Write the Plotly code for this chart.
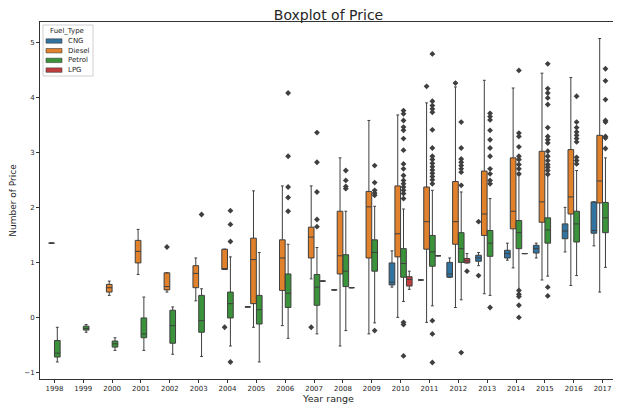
import plotly.graph_objects as go

years = list(range(1998, 2018))
fuel_types = ["CNG", "Diesel", "Petrol", "LPG"]
fuel_colors = {"CNG": "#3274a1", "Diesel": "#e1812c", "Petrol": "#3a923a", "LPG": "#c03d3e"}

# ---- CNG ----
cng_years = [2005, 2008, 2010, 2011, 2012, 2013, 2014, 2015, 2016, 2017]
cng_lower = [0.20, 0.51, 0.56, 0.69, 0.74, 0.95, 1.05, 1.09, 1.20, 1.31]
cng_q1 = [0.20, 0.51, 0.60, 0.69, 0.74, 1.03, 1.09, 1.18, 1.44, 1.54]
cng_med = [0.20, 0.51, 0.65, 0.69, 0.80, 1.09, 1.17, 1.26, 1.58, 1.59]
cng_q3 = [0.20, 0.51, 1.00, 0.69, 1.01, 1.14, 1.23, 1.32, 1.71, 2.11]
cng_upper = [0.20, 0.51, 1.22, 0.69, 1.09, 1.19, 1.36, 1.36, 2.01, 2.11]
cng_out_years = [2013, 2013]
cng_out_vals = [1.75, 0.77]

# ---- Diesel ----
diesel_years = [1998, 2000, 2001, 2002, 2003, 2004, 2005, 2006, 2007, 2008,
                2009, 2010, 2011, 2012, 2013, 2014, 2015, 2016, 2017]
diesel_lower = [1.36, 0.41, 0.79, 0.47, 0.31, 0.88, -0.17, -0.14, 0.71, -0.51,
                -0.29, 0.01, -0.08, 0.19, 0.44, 0.91, 0.69, 0.59, 0.47]
diesel_q1 = [1.36, 0.47, 1.00, 0.51, 0.55, 0.88, 0.26, 0.50, 1.09, 0.80,
             1.09, 1.11, 1.25, 1.34, 1.50, 1.62, 1.74, 1.89, 2.09]
diesel_med = [1.36, 0.55, 1.21, 0.57, 0.81, 0.88, 1.06, 1.09, 1.47, 1.13,
              2.02, 1.53, 1.75, 1.75, 1.89, 1.94, 2.11, 2.20, 2.49]
diesel_q3 = [1.36, 0.61, 1.41, 0.82, 0.95, 1.25, 1.45, 1.42, 1.65, 1.94,
             2.30, 2.40, 2.38, 2.48, 2.67, 2.91, 3.03, 3.06, 3.32]
diesel_upper = [1.36, 0.67, 1.61, 0.82, 1.09, 1.25, 2.31, 2.40, 2.40, 2.91,
                3.59, 3.69, 3.91, 4.20, 4.32, 4.18, 4.45, 4.37, 5.08]
diesel_out_years = [2002, 2004, 2007, 2011, 2012]
diesel_out_vals = [1.29, -0.17, -0.17, 4.21, 4.27]

# ---- Petrol ----
petrol_years = years
petrol_lower = [-0.80, -0.26, -0.59, -0.59, -0.66, -0.70, -0.51, -0.80, -0.37, -0.29,
                -0.23, -0.09, 0.30, 0.22, 0.33, 0.41, 0.51, 0.76, 0.77, 0.92]
petrol_q1 = [-0.71, -0.22, -0.53, -0.36, -0.46, -0.26, 0.00, -0.11, 0.19, 0.23,
             0.57, 0.85, 0.74, 0.94, 1.01, 1.12, 1.26, 1.36, 1.38, 1.55]
petrol_med = [-0.64, -0.19, -0.47, -0.29, -0.14, -0.05, 0.26, 0.15, 0.45, 0.56,
              0.85, 1.19, 0.99, 1.20, 1.26, 1.36, 1.55, 1.60, 1.71, 1.82]
petrol_q3 = [-0.41, -0.15, -0.42, 0.00, 0.14, 0.41, 0.47, 0.41, 0.80, 0.79,
             1.15, 1.42, 1.26, 1.50, 1.55, 1.59, 1.77, 1.82, 1.94, 2.10]
petrol_upper = [-0.17, -0.12, -0.36, 0.38, 0.20, 0.53, 1.11, 1.19, 1.34, 1.28,
                1.94, 2.03, 1.98, 2.32, 2.29, 2.17, 2.59, 2.59, 2.68, 2.91]
petrol_outliers = {
    2003: [1.88],
    2004: [1.95, 1.70, 1.39, -0.80],
    2006: [4.09, 2.94, 2.38, 2.19, 1.94],
    2007: [3.37, 2.83, 2.29, 1.79, 1.66],
    2008: [2.68, 2.50, 2.39, 2.35],
    2009: [2.77, 2.46, 2.32, 2.27, 2.23, -0.23],
    2010: [3.77, 3.71, 3.59, 3.47, 3.41, 3.26, 3.05, 2.80, 2.71, 2.59, 2.50, 2.44,
           2.38, 2.32, 2.26, 2.17, -0.08, -0.12, -0.69],
    2011: [4.80, 3.94, 3.86, 3.80, 3.74, 3.42, 3.09, 2.94, 2.88, 2.81, 2.75, 2.69,
           2.63, 2.57, 2.51, 2.44, -0.05, -0.29, -0.81],
    2012: [3.56, 3.09, 2.89, 2.83, 2.77, 2.71, 2.65, 2.41, -0.63],
    2013: [3.72, 3.66, 3.60, 3.41, 3.24, 3.09, 2.94, 2.71, 2.62, 2.50, 2.44, 0.19],
    2014: [4.50, 3.36, 3.30, 3.11, 2.94, 2.88, 2.79, 2.71, 2.62, 0.50, 0.43, 0.39,
           0.23, 0.01],
    2015: [4.62, 4.17, 4.09, 4.00, 3.88, 3.46, 3.30, 3.24, 3.18, 3.03, 2.94, 2.86,
           2.79, 2.74, 2.68, 2.61, 0.56, 0.40],
    2016: [4.03, 3.56, 3.46, 3.38, 3.32, 3.26, 3.20, 2.92, 2.86, 2.80],
    2017: [4.53, 4.31, 3.97, 3.59, 3.56, 3.30, 3.27, 3.08],
}
petrol_out_years = [y for y, vals in petrol_outliers.items() for _ in vals]
petrol_out_vals = [v for vals in petrol_outliers.values() for v in vals]

# ---- LPG ----
lpg_years = [2007, 2008, 2010, 2011, 2012, 2014]
lpg_lower = [0.67, 0.55, 0.52, 1.13, 1.00, 1.17]
lpg_q1 = [0.67, 0.55, 0.58, 1.13, 1.00, 1.17]
lpg_med = [0.67, 0.55, 0.70, 1.13, 1.04, 1.17]
lpg_q3 = [0.67, 0.55, 0.75, 1.13, 1.08, 1.17]
lpg_upper = [0.67, 0.55, 0.85, 1.13, 1.17, 1.17]
lpg_out_years = [2012]
lpg_out_vals = [0.85]

series = {
    "CNG": (cng_years, cng_lower, cng_q1, cng_med, cng_q3, cng_upper, cng_out_years, cng_out_vals),
    "Diesel": (diesel_years, diesel_lower, diesel_q1, diesel_med, diesel_q3, diesel_upper, diesel_out_years, diesel_out_vals),
    "Petrol": (petrol_years, petrol_lower, petrol_q1, petrol_med, petrol_q3, petrol_upper, petrol_out_years, petrol_out_vals),
    "LPG": (lpg_years, lpg_lower, lpg_q1, lpg_med, lpg_q3, lpg_upper, lpg_out_years, lpg_out_vals),
}

edge = "#3f3f3f"
n_h = len(fuel_types)
hue_w = 0.8 / n_h

# page offset of the plotly div (default body margin) is compensated here
OFF = 8
W, H = 621 - OFF, 406 - OFF
ML, MR, MT, MB = 40 - OFF, 4, 22 - OFF, 27
PW, PH = W - ML - MR, H - MT - MB


def px(x):  # page pixel -> paper x
    return (x - OFF - ML) / PW


def py(y):  # page pixel -> paper y
    return (H - MB - (y - OFF)) / PH


fig = go.Figure()
for k, ft in enumerate(fuel_types):
    yrs, lo, q1, md, q3, up, oy, ov = series[ft]
    off = (k - (n_h - 1) / 2) * hue_w
    pos = [years.index(y) + off for y in yrs]
    fig.add_trace(go.Box(
        x=pos, q1=q1, median=md, q3=q3, lowerfence=lo, upperfence=up,
        name=ft, width=hue_w * 0.98, fillcolor=fuel_colors[ft],
        line=dict(color=edge, width=1), whiskerwidth=0.5,
        boxpoints=False, showlegend=False,
    ))
    if oy:
        fig.add_trace(go.Scatter(
            x=[years.index(y) + off for y in oy], y=ov, mode="markers",
            marker=dict(symbol="diamond", size=4.5, color=edge),
            showlegend=False, hoverinfo="y",
        ))

# legend (matplotlib-style, compact)
shapes = [dict(type="rect", xref="paper", yref="paper",
               x0=px(43), x1=px(93), y0=py(76), y1=py(25),
               line=dict(color="#d0d0d0", width=1), fillcolor="rgba(255,255,255,0.9)", layer="above")]
annotations = [dict(text="Fuel_Type", xref="paper", yref="paper", x=px(67), y=py(31),
                    xanchor="center", yanchor="middle", showarrow=False,
                    font=dict(size=7, color="#262626"))]
for k, ft in enumerate(fuel_types):
    yc = 41 + k * 9.7
    shapes.append(dict(type="rect", xref="paper", yref="paper",
                       x0=px(46), x1=px(62), y0=py(yc + 2.2), y1=py(yc - 2.2),
                       fillcolor=fuel_colors[ft], line=dict(color=edge, width=0.6), layer="above"))
    annotations.append(dict(text=ft, xref="paper", yref="paper", x=px(66), y=py(yc),
                            xanchor="left", yanchor="middle", showarrow=False,
                            font=dict(size=7, color="#262626")))

fig.update_layout(
    width=W, height=H,
    margin=dict(l=ML, r=MR, t=MT, b=MB, autoexpand=False),
    paper_bgcolor="white", plot_bgcolor="white",
    font=dict(family="DejaVu Sans", color="#262626", size=7),
    title=dict(text="Boxplot of Price", x=(ML + PW / 2) / W, xanchor="center",
               y=1 - (15.5 - OFF) / H, yanchor="middle", font=dict(size=14, color="#262626")),
    boxmode="overlay",
    showlegend=False,
    shapes=shapes,
    annotations=annotations,
)
fig.update_xaxes(
    range=[-0.5, len(years) - 0.5], tickmode="array",
    tickvals=list(range(len(years))), ticktext=[str(y) for y in years],
    showline=True, mirror=True, linecolor="#333333", linewidth=1,
    ticks="outside", ticklen=3, tickcolor="#333333", showgrid=False, zeroline=False,
    title=dict(text="Year range", font=dict(size=9.5), standoff=1),
    tickfont=dict(size=7), automargin=False,
)
fig.update_yaxes(
    range=[-1.11, 5.38], dtick=1,
    showline=True, mirror=True, linecolor="#333333", linewidth=1,
    ticks="outside", ticklen=3, tickcolor="#333333", showgrid=False, zeroline=False,
    title=dict(text="Number of Price", font=dict(size=9), standoff=8),
    tickfont=dict(size=7), automargin=False,
)

fig.write_html("out.html")
